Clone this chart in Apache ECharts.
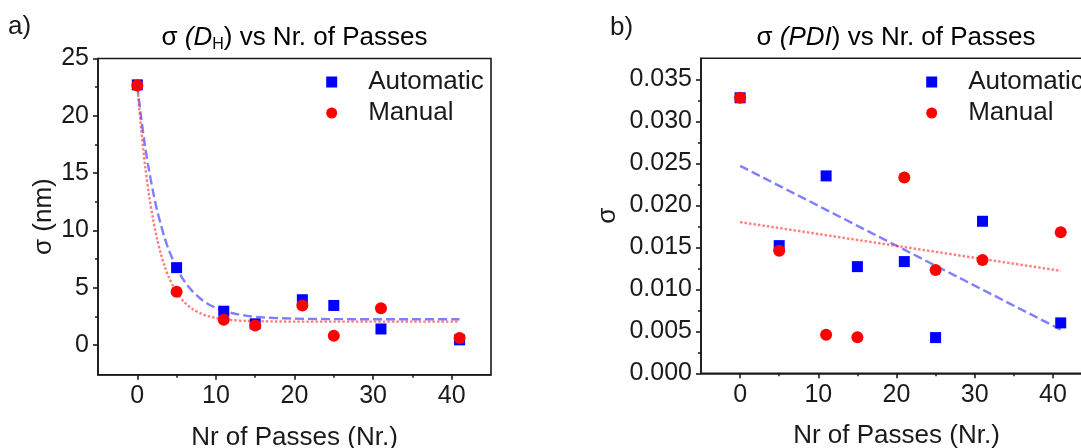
<!DOCTYPE html>
<html>
<head>
<meta charset="utf-8">
<script src="https://cdn.jsdelivr.net/npm/echarts@6/dist/echarts.min.js"></script>
<style>
html,body{margin:0;padding:0;background:#fff;}
#chart{width:1081px;height:448px;}
</style>
</head>
<body>
<div id="chart"></div>
<script>
// ---- data ----
const passes = [0, 5, 11, 15, 21, 25, 31, 41];

// panel a: sigma(D_H) in nm
const dhAutomatic = [22.7, 6.75, 2.95, 1.85, 3.95, 3.45, 1.4, 0.45];
const dhManual    = [22.65, 4.65, 2.2, 1.7, 3.45, 0.8, 3.2, 0.62];

// panel a: exponential-decay fit curves
const dhFitX      = [0, 0.5, 1, 1.5, 2, 2.5, 3, 3.5, 4, 5, 6, 7, 8, 9, 10, 12, 14, 16, 20, 25, 30, 35, 41];
const dhAutoFitY  = [22.65, 19.8, 17.3, 15.2, 13.4, 11.8, 10.5, 9.3, 8.3, 6.73, 5.56, 4.7, 4.06, 3.58, 3.24, 2.79, 2.54, 2.41, 2.3, 2.26, 2.25, 2.25, 2.25];
const dhManFitY   = [22.65, 18.8, 15.6, 13.05, 11.0, 9.3, 7.95, 6.83, 5.93, 4.6, 3.73, 3.15, 2.78, 2.52, 2.36, 2.18, 2.1, 2.07, 2.04, 2.04, 2.04, 2.04, 2.04];

// panel b: sigma(PDI)
const pdiAutomatic = [0.0328, 0.0152, 0.0235, 0.0127, 0.0133, 0.00425, 0.0181, 0.0060];
const pdiManual    = [0.0328, 0.0146, 0.0046, 0.0043, 0.0233, 0.0123, 0.0135, 0.0168];

// panel b: linear fit end points
const pdiFitX        = [0, 41];
const pdiAutoFitY    = [0.0247, 0.0052];
const pdiManualFitY  = [0.0180, 0.0122];

// ticks
const xTicks      = [0, 10, 20, 30, 40];
const xMinorTicks = [5, 15, 25, 35];
const dhTicks      = [0, 5, 10, 15, 20, 25];
const dhMinorTicks = [2.5, 7.5, 12.5, 17.5, 22.5];
const pdiTicks      = [0, 0.005, 0.010, 0.015, 0.020, 0.025, 0.030, 0.035];
const pdiMinorTicks = [0.0025, 0.0075, 0.0125, 0.0175, 0.0225, 0.0275, 0.0325];

const xName = 'Nr of Passes (Nr.)';
const yNameA = 'σ (nm)';
const yNameB = 'σ';

// ---- styling ----
const FONT = "'Liberation Sans', Arial, sans-serif";
const INK = '#1a1a1a';
const BLUE = '#0000ff';
const RED = '#ff0000';
const BLUE_FIT = 'rgba(40,40,255,0.6)';
const RED_FIT = 'rgba(255,40,40,0.6)';
const TXT = 26;
const TICK = 25;

const pairs = (xs, ys) => xs.map((x, i) => [x, ys[i]]);

function xAxisPair(gridIndex) {
  const base = {
    type: 'value', gridIndex, min: -5, max: 45, position: 'bottom',
    splitLine: { show: false }
  };
  return [
    Object.assign({}, base, {
      name: xName, nameLocation: 'middle', nameGap: 50,
      nameTextStyle: { fontFamily: FONT, fontSize: TXT, color: INK },
      axisLine: { show: true, onZero: false, lineStyle: { color: INK, width: 1.6 } },
      axisTick: { show: true, customValues: xTicks, length: 5, lineStyle: { color: INK, width: 1.6 } },
      axisLabel: { show: true, customValues: xTicks, margin: 9, fontFamily: FONT, fontSize: TICK, color: INK }
    }),
    Object.assign({}, base, {
      axisLine: { show: false, onZero: false },
      axisTick: { show: true, customValues: xMinorTicks, length: 3, lineStyle: { color: INK, width: 1.5 } },
      axisLabel: { show: false }
    })
  ];
}

function yAxisPair(gridIndex, min, max, ticks, minor, name, gap, fmt) {
  const base = { type: 'value', gridIndex, min, max, position: 'left', splitLine: { show: false } };
  return [
    Object.assign({}, base, {
      name, nameLocation: 'middle', nameGap: gap,
      nameTextStyle: { fontFamily: FONT, fontSize: TXT, color: INK },
      axisLine: { show: true, onZero: false, lineStyle: { color: INK, width: 1.6 } },
      axisTick: { show: true, customValues: ticks, length: 5, lineStyle: { color: INK, width: 1.6 } },
      axisLabel: { show: true, customValues: ticks, margin: 9, fontFamily: FONT, fontSize: TICK, color: INK, formatter: fmt }
    }),
    Object.assign({}, base, {
      axisLine: { show: false, onZero: false },
      axisTick: { show: true, customValues: minor, length: 3, lineStyle: { color: INK, width: 1.5 } },
      axisLabel: { show: false }
    })
  ];
}

const fitLine = (name, xi, yi, data, color, dash, smooth) => ({
  name, type: 'line', xAxisIndex: xi, yAxisIndex: yi, data,
  showSymbol: false, symbol: 'none', smooth: smooth,
  lineStyle: { color, width: 2.4, type: dash }, silent: true, z: 1
});
const scatter = (name, xi, yi, data, color, symbol, size) => ({
  name, type: 'scatter', xAxisIndex: xi, yAxisIndex: yi, data,
  symbol, symbolSize: size, itemStyle: { color, opacity: 1 }, z: 3
});

const legendCommon = {
  orient: 'vertical', padding: 0, itemWidth: 11, itemHeight: 11, itemGap: 3,
  selectedMode: false,
  textStyle: { fontFamily: FONT, fontSize: TXT, color: INK, lineHeight: 28, padding: [0, 0, 0, 26] },
  data: [{ name: 'Automatic', icon: 'rect' }, { name: 'Manual', icon: 'circle' }]
};

const chart = echarts.init(document.getElementById('chart'), null, { renderer: 'canvas' });

const titleRich = {
  n: { fontFamily: FONT, fontSize: TXT, color: INK },
  i: { fontFamily: FONT, fontSize: TXT, color: INK, fontStyle: 'italic' },
  s: { fontFamily: FONT, fontSize: 16, color: INK, padding: [14, 0, 0, 0] }
};

const gridCommon = {
  show: true, borderColor: INK, borderWidth: 1.6, backgroundColor: 'transparent',
  containLabel: false, outerBoundsMode: 'none'
};

chart.setOption({
  backgroundColor: '#ffffff',
  animation: false,
  grid: [
    Object.assign({ left: 98, top: 58.5, width: 393, height: 316.3 }, gridCommon),
    Object.assign({ left: 701, top: 58.3, width: 391, height: 315 }, gridCommon)
  ],
  xAxis: [...xAxisPair(0), ...xAxisPair(1)],
  yAxis: [
    ...yAxisPair(0, -2.6, 25, dhTicks, dhMinorTicks, yNameA, 40, v => String(v)),
    ...yAxisPair(1, 0, 0.0375, pdiTicks, pdiMinorTicks, yNameB, 80, v => v.toFixed(3))
  ],
  legend: [
    Object.assign({}, legendCommon, { left: 326.2, top: 68 }),
    Object.assign({}, legendCommon, { left: 926.2, top: 68 })
  ],
  graphic: [
    { type: 'text', left: 8, top: 14, style: { text: 'a)', fontFamily: FONT, fontSize: TXT, fill: INK } },
    { type: 'text', left: 610, top: 15, style: { text: 'b)', fontFamily: FONT, fontSize: TXT, fill: INK } },
    { type: 'text', x: 294.5, y: 38, style: {
        text: '{n|σ }{i|(D}{s|H}{n|) vs Nr. of Passes}', rich: titleRich,
        align: 'center', verticalAlign: 'middle' } },
    { type: 'text', x: 896, y: 38, style: {
        text: '{n|σ }{i|(PDI}{n|) vs Nr. of Passes}', rich: titleRich,
        align: 'center', verticalAlign: 'middle' } }
  ],
  series: [
    fitLine('Automatic fit a', 0, 0, pairs(dhFitX, dhAutoFitY), BLUE_FIT, [9, 4], 0.3),
    fitLine('Manual fit a', 0, 0, pairs(dhFitX, dhManFitY), RED_FIT, [2.5, 2], 0.3),
    scatter('Automatic', 0, 0, pairs(passes, dhAutomatic), BLUE, 'rect', 11),
    scatter('Manual', 0, 0, pairs(passes, dhManual), RED, 'circle', 12),
    fitLine('Automatic fit b', 2, 2, pairs(pdiFitX, pdiAutoFitY), BLUE_FIT, [9, 4], false),
    fitLine('Manual fit b', 2, 2, pairs(pdiFitX, pdiManualFitY), RED_FIT, [2.5, 2], false),
    scatter('Automatic', 2, 2, pairs(passes, pdiAutomatic), BLUE, 'rect', 11),
    scatter('Manual', 2, 2, pairs(passes, pdiManual), RED, 'circle', 12)
  ]
});
</script>
</body>
</html>
